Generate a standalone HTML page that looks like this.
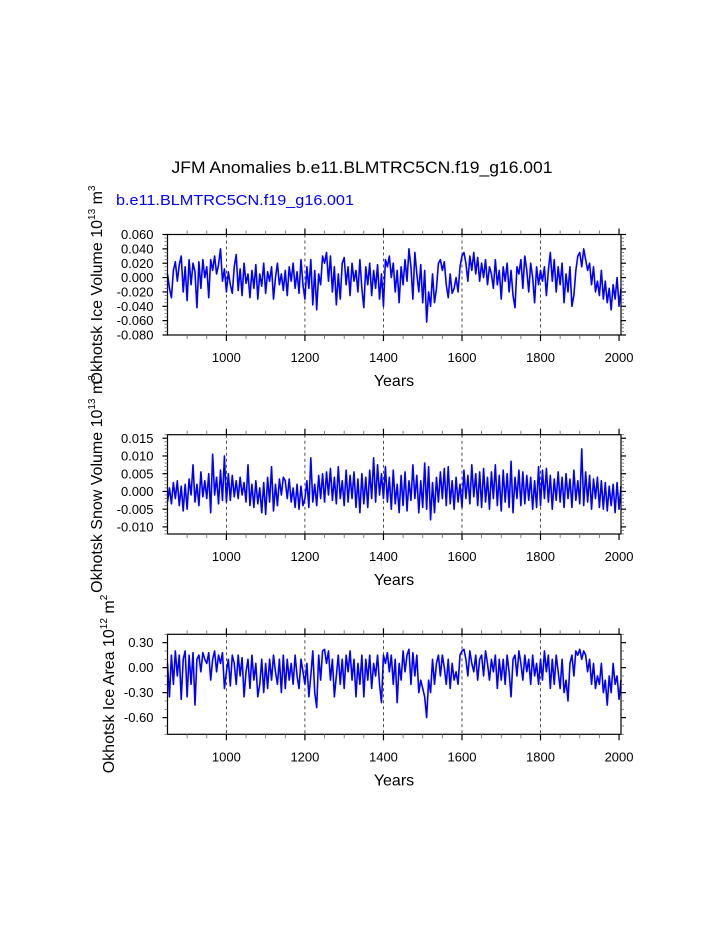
<!DOCTYPE html>
<html><head><meta charset="utf-8"><style>
html,body{margin:0;padding:0;background:#fff}
svg{display:block;font-family:"Liberation Sans",Arial,sans-serif}
</style></head><body>
<svg id="chart" width="723" height="935" viewBox="0 0 723 935" xmlns="http://www.w3.org/2000/svg">
<text x="362" y="173" font-size="17" text-anchor="middle" textLength="381" lengthAdjust="spacingAndGlyphs">JFM Anomalies b.e11.BLMTRC5CN.f19_g16.001</text>
<text x="116" y="205" font-size="15" fill="#0000ff" textLength="238" lengthAdjust="spacingAndGlyphs">b.e11.BLMTRC5CN.f19_g16.001</text>
<g id="panels"></g>
</svg>
<script>
// Years axis
const yearStart = 850;
const yearStep = 5;
const xTickYears = [1000, 1200, 1400, 1600, 1800, 2000];
const xTickLabels = ["1000", "1200", "1400", "1600", "1800", "2000"];

// Ice volume anomalies (units of 0.001 x 10^13 m^3)
const iceVolume = [
5,-15,-28,10,22,-5,18,30,-20,15,
-32,25,-10,20,8,-42,22,-15,25,0,
15,-28,25,10,30,5,18,40,-5,12,
-20,8,-10,-22,15,32,-18,12,-25,20,
-8,5,-28,10,-15,18,-30,5,-12,20,
-22,8,-5,15,-30,0,20,-10,5,-18,
10,-25,15,-5,20,-15,8,-22,25,-10,
-30,15,-15,25,-38,10,-45,5,-10,30,
20,35,-5,30,-20,15,-38,5,-30,20,
28,-10,15,-25,20,-5,10,-20,25,-15,
-42,15,-10,20,-25,10,-15,18,-30,5,
-40,25,15,30,0,20,-20,10,-35,15,
-10,25,-5,40,15,-30,35,5,-20,18,
-35,10,-62,-20,-40,5,-35,-15,20,25,
10,22,-10,-28,5,-22,-15,0,-20,15,
30,35,20,-5,30,10,35,5,28,-5,
20,0,25,-10,15,5,-15,25,-10,10,
-30,15,-5,20,-20,10,-25,-42,15,5,
25,-15,30,10,-20,20,0,-35,15,-10,
10,-5,15,-25,10,35,-5,25,-20,15,
-10,20,-35,5,-20,15,-40,-25,10,30,
35,15,40,25,10,20,-10,15,-20,-5,
-25,10,-30,-5,-35,-15,-45,-10,-30,0,
-40,-15];

// Snow volume anomalies (units of 0.0001 x 10^13 m^3)
const snowVolume = [
-30,10,-35,25,-20,30,-40,15,-55,20,
-50,35,-10,75,-30,20,-40,55,-15,30,
-20,50,-60,105,-10,40,-35,60,-25,100,
-30,50,-25,45,-15,30,-20,40,-10,25,
-30,75,-40,20,-45,30,-35,10,-60,25,
-65,40,-30,70,-55,20,-40,35,-10,40,
30,-20,35,-30,10,-45,20,-50,15,-40,
-20,30,-45,95,-30,20,-40,45,-20,50,
-30,55,-10,65,-25,40,-35,70,-20,30,
-40,60,-30,45,-20,55,-45,35,-60,50,
-35,40,-45,60,-20,95,-30,75,-10,50,
-20,70,-30,40,-50,60,-35,20,-60,45,
-40,55,-55,30,-25,75,-20,45,-60,30,
-45,80,-50,70,-80,25,-60,40,-30,55,
-20,65,-40,70,-35,30,-50,40,-30,20,
-45,60,-20,45,-35,75,-15,50,-40,55,
-45,65,-30,40,-50,55,-20,75,-40,45,
-55,60,-30,50,-45,85,-60,40,-20,60,
-40,55,-35,45,-25,40,-50,30,-45,70,
-40,60,-20,65,-30,45,-50,35,-25,55,
-30,40,-45,50,-20,35,-45,60,-25,30,
-35,120,-40,55,-30,45,-50,35,-20,40,
-45,30,-50,25,-55,15,-40,20,-60,25,
-50,15];

// Ice area anomalies (units of 0.01 x 10^12 m^2)
const iceArea = [
5,-35,15,-20,20,-10,15,-38,10,20,
-35,15,-20,18,-45,10,15,-5,18,10,
5,18,-15,10,20,-5,15,5,18,-25,
-5,10,-22,15,5,-20,15,-10,12,-35,
-5,10,-25,15,-15,5,-35,-20,10,-30,
5,-25,10,-15,15,-5,-20,10,-30,15,
-25,10,-15,5,-20,15,-10,-25,10,-5,
-20,5,-35,-10,20,-30,-48,15,-15,20,
22,5,20,-15,10,-35,-10,15,-20,10,
-25,15,-5,20,-15,10,-35,5,-20,15,
-35,10,-15,15,-25,5,-10,15,-20,-42,
15,5,18,-5,15,-20,10,-42,5,-15,
20,-5,15,22,-20,18,-10,15,-30,-15,
-25,-35,-60,-15,-30,10,-20,5,15,-10,
15,0,-20,10,-25,5,-15,-5,-20,15,
20,22,10,-10,20,5,-5,15,-15,10,
15,-10,20,5,-15,10,-5,15,-25,10,
-15,10,-20,15,-5,-35,10,15,-10,20,
5,-15,15,-5,10,-20,15,-10,5,-20,
10,-15,20,-5,15,-25,10,-20,15,-5,
-25,10,-30,-15,-40,5,15,-10,20,15,
22,10,20,15,-5,10,-20,5,-25,-10,
-20,5,-30,-15,-45,-10,-30,5,-20,-10,
-38,-15];

const volTicks = ["0.060","0.040","0.020","0.000","-0.020","-0.040","-0.060","-0.080"];
const snowTicks = ["0.015","0.010","0.005","0.000","-0.005","-0.010"];
const areaTicks = ["0.30","0.00","-0.30","-0.60"];

const NS = "http://www.w3.org/2000/svg";
const X0 = 167.5, X1 = 621, YMIN = 850, YMAX = 2005;
function xScale(yr){ return X0 + (yr - YMIN) / (YMAX - YMIN) * (X1 - X0); }
function mk(tag, attrs, parent){
  const e = document.createElementNS(NS, tag);
  for (const k in attrs) e.setAttribute(k, attrs[k]);
  parent.appendChild(e); return e;
}
const root = document.getElementById("panels");

const panels = [
 {name:"ice-volume", top:234.5, bot:335, vmin:-0.080, vmax:0.060, data:iceVolume, scale:0.001, ticks:volTicks, major:0.02, minor:0.005,
  title:["Okhotsk Ice Volume 10","13"," m","3"], tx:102, ty:285},
 {name:"snow-volume", top:434.7, bot:534, vmin:-0.012, vmax:0.016, data:snowVolume, scale:0.0001, ticks:snowTicks, major:0.005, minor:0.001,
  title:["Okhotsk Snow Volume 10","13"," m","3"], tx:102, ty:484},
 {name:"ice-area", top:634.3, bot:734.3, vmin:-0.8, vmax:0.4, data:iceArea, scale:0.01, ticks:areaTicks, major:0.3, minor:0.1,
  title:["Okhotsk Ice Area 10","12"," m","2"], tx:114, ty:684}
];

panels.forEach(p => {
  const g = mk("g", {}, root);
  
  
  const yS = v => p.bot - (v - p.vmin) / (p.vmax - p.vmin) * (p.bot - p.top);
  xTickYears.slice(0, 5).forEach(yr => {
    const l = mk("line", {x1:xScale(yr), x2:xScale(yr), y1:p.top, y2:p.bot, stroke:"#000", "stroke-width":0.7, "stroke-dasharray":"3,3"}, g);
    
    
  });
  let d = "";
  p.data.forEach((v, i) => {
    const yr = yearStart + i * yearStep;
    d += (i ? "L" : "M") + xScale(yr).toFixed(2) + "," + yS(v * p.scale).toFixed(2);
  });
  const path = mk("path", {d:d, fill:"none", stroke:"#0000ff", "stroke-width":1.6, "stroke-linejoin":"round"}, g);
  
  
  const fr = mk("rect", {x:X0, y:p.top, width:X1 - X0, height:p.bot - p.top, fill:"none", stroke:"#000", "stroke-width":1.2}, g);
  
  
  for (let yr = 900; yr <= YMAX; yr += 50) {
    const major = yr % 200 === 0;
    const len = major ? 6 : 4;
    const x = xScale(yr);
    mk("line", {x1:x, x2:x, y1:p.bot, y2:p.bot + len, stroke:major?"#000":"#666", "stroke-width":major?1.2:0.8}, g);
    mk("line", {x1:x, x2:x, y1:p.top, y2:p.top - len, stroke:major?"#000":"#666", "stroke-width":major?1.2:0.8}, g);
  }
  xTickYears.forEach((yr, i) => {
    const t = mk("text", {x:xScale(yr), y:p.bot + 27, "font-size":13, "text-anchor":"middle"}, g);
    t.textContent = xTickLabels[i];
    
    
  });
  const xt = mk("text", {x:394, y:p.bot + 51, "font-size":16, "text-anchor":"middle"}, g);
  xt.textContent = "Years";
  
  
  const n0 = Math.ceil(p.vmin / p.minor - 1e-6), n1 = Math.floor(p.vmax / p.minor + 1e-6);
  const ratio = Math.round(p.major / p.minor);
  for (let n = n0; n <= n1; n++) {
    const y = yS(n * p.minor);
    const major = n % ratio === 0;
    const len = major ? 5 : 3;
    mk("line", {x1:X0, x2:X0 - len, y1:y, y2:y, stroke:major?"#000":"#666", "stroke-width":major?1.2:0.8}, g);
    mk("line", {x1:X1, x2:X1 + len, y1:y, y2:y, stroke:major?"#000":"#666", "stroke-width":major?1.2:0.8}, g);
  }
  p.ticks.forEach(lab => {
    const v = parseFloat(lab);
    const t = mk("text", {x:X0 - 14, y:yS(v) + 4.6, "font-size":13, "text-anchor":"end"}, g);
    t.textContent = lab;
    
    
  });
  const yt = mk("text", {x:0, y:0, "font-size":16, "text-anchor":"middle", transform:"translate(" + p.tx + "," + p.ty + ") rotate(-90)"}, g);
  
  
  const s1 = mk("tspan", {}, yt); s1.textContent = p.title[0];
  const s2 = mk("tspan", {dy:-7, "font-size":10}, yt); s2.textContent = p.title[1];
  const s3 = mk("tspan", {dy:7}, yt); s3.textContent = p.title[2];
  const s4 = mk("tspan", {dy:-7, "font-size":10}, yt); s4.textContent = p.title[3];
});
</script>
</body></html>
